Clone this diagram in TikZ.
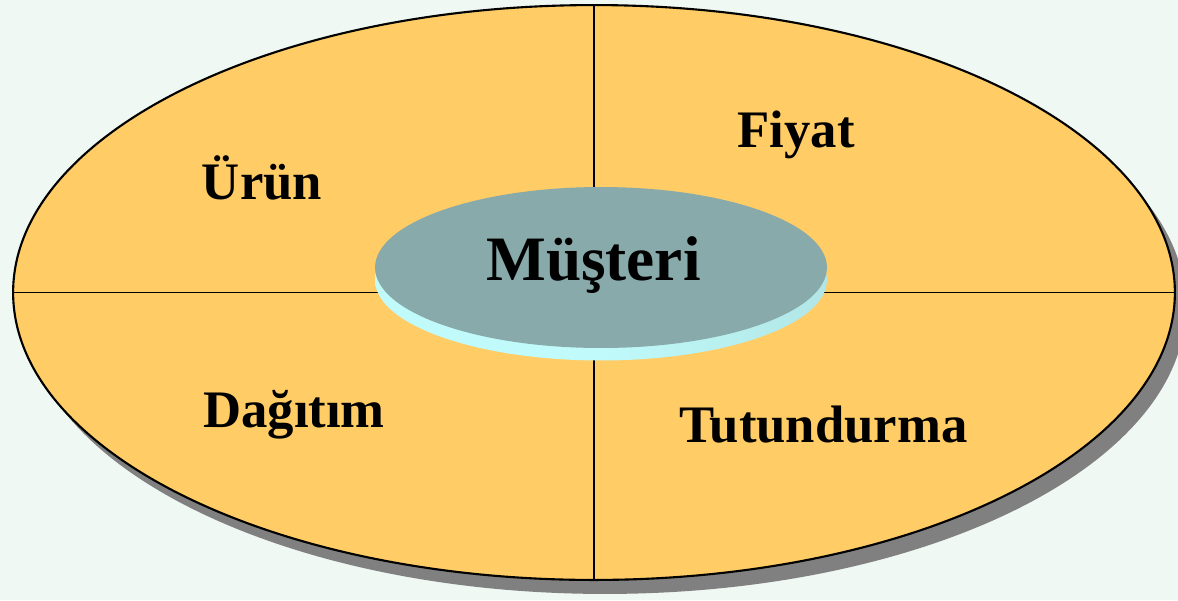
\documentclass[tikz,border=0pt]{standalone}
\usepackage{fontspec}
\setmainfont{Liberation Serif}
\usepackage{xcolor}
\usetikzlibrary{shapes.geometric,shadows}
\definecolor{bgmint}{RGB}{239,248,243}
\definecolor{segorange}{RGB}{255,204,102}
\definecolor{coreteal}{RGB}{136,170,170}
\definecolor{corerim}{RGB}{192,250,250}

\begin{document}
\begin{tikzpicture}[x=0.02cm,y=-0.02cm,
  lbl/.style={anchor=base,font=\fontsize{30}{34}\selectfont\bfseries}]
  \fill[bgmint] (0,0) rectangle (1178,600);
  \useasboundingbox (0,0) rectangle (1178,600);
  % outer ring and the four quarters
  \node[draw,ellipse,line width=1.2pt,fill=segorange,minimum width=23.24cm,minimum height=11.5cm,inner sep=0pt,
    drop shadow={shadow xshift=0.22cm,shadow yshift=-0.28cm,fill=gray,opacity=1}] (outer) at (594,292.5) {};
  \draw[line width=1pt] (outer.north) -- (outer.south);
  \draw[line width=1pt] (outer.west) -- (outer.east);
  % centre disc
  \node[ellipse,left color=corerim,right color=corerim!75!coreteal,middle color=corerim,minimum width=9.04cm,minimum height=3.22cm,inner sep=0pt] (rim) at (601,280) {};
  \node[ellipse,fill=coreteal,minimum width=9.04cm,minimum height=3.22cm,inner sep=0pt] (core) at (601,267.5) {};
  \node[lbl,font=\fontsize{36}{40}\selectfont\bfseries] (musteri) at (593.5,280) {Müşteri};
  \node[lbl] (urun) at (262,199) {Ürün};
  \node[lbl] (fiyat) at (796,147) {Fiyat};
  \node[lbl] (dagitim) at (294,427) {Dağıtım};
  \node[lbl] (tutundurma) at (823.5,442) {Tutundurma};
\end{tikzpicture}
\end{document}
